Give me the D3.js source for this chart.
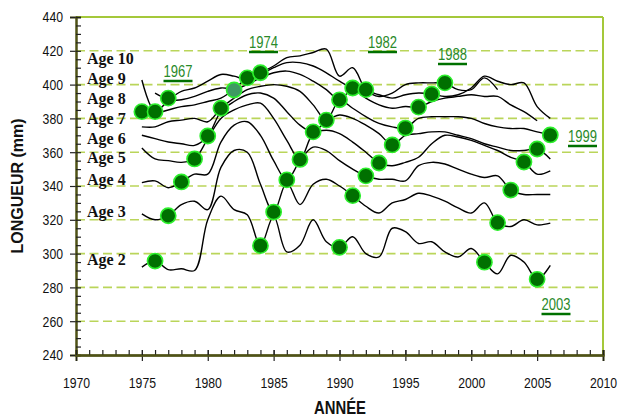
<!DOCTYPE html>
<html><head><meta charset="utf-8">
<script src="https://cdn.jsdelivr.net/npm/d3@7"></script>
<style>
html,body{margin:0;padding:0;background:#fff;}
svg{display:block;}
</style></head>
<body><svg id="c" width="628" height="418"></svg>
<script>
const years = d3.range(1975, 2007);
const age2  = [292,295.6,290.5,291,290,320,334,326,323,304.7,322,301,305,320,307,303.7,310,300,298,315,313,306,307,301,298,303,294.9,288,299,295,284.8,293];
const age3  = [323.5,320,322.4,329,331,326,351,361,360,341,324.6,342,329,341,344,340,334.3,328,324,330,332,335.7,334,331,327,324,330,318.3,316,320,317,318];
const age4  = [342,343,339,342.4,347,347,366,376,378,370,355,343.6,355,363,361,355,350,346,344,344,343,352,354,353,350,347,345,346,337.6,335,335,335];
const age5  = [362.5,356,355,354,356,368,380,385,388,389,380,367,355.7,371,373,371,366,360,353.6,352,354,357,365,370,369,367,364,361,357,354.2,347,349];
const age6  = [370,368,366,365,364,369.6,384,390,394,395,392,384,376,372,378.5,382,380,376,371,364.3,370,371,372,372,370,368,365,363,361,361,361.9,356];
const age7  = [375,375,378,379,380,378,386,392,397,399,400,399,396,388,379,390.5,386,381,377,375,374.3,380,381,381,381,380,377,375,374,374,372,370.2];
const age8  = [384,383,385,387,388,390,392,396.8,400,404,407,408,406,402,397,391,397.5,392,388,386,387,386.7,390,392,393,394,393,393,388,384,378.6,null];
const age9  = [402.7,384,390,391,393,396,398,398,404,406,410,413,413,411,407,402,398,396.5,394,392,394,395,394.4,393,394,398,405,402,400,401,387,380];
const age10 = [null,395,392,396,398,402,406,405,403,407,411,416,417,419,421,405,410,397,393,395,400,401,401,401,397,397,404,397,null,null,null,null];
const ageNames = ["Age 2","Age 3","Age 4","Age 5","Age 6","Age 7","Age 8","Age 9","Age 10"];
const ageSeries = [age2,age3,age4,age5,age6,age7,age8,age9,age10];
const cohortYears = [1967,1974,1982,1988,1999,2003];
const cohortFirstAge = [8,2,2,2,2,2];
const cohortLastAge  = [10,10,10,10,7,2];
const yTicks = [240,260,280,300,320,340,360,380,400,420,440];
const xTicks = [1970,1975,1980,1985,1990,1995,2000,2005,2010];

const svg = d3.select("#c");
const x = d3.scaleLinear().domain([1970,2010]).range([76,603]);
const y = d3.scaleLinear().domain([240,440]).range([355,17]);
const SANS = "Liberation Sans, Arial, sans-serif";

// grid
svg.append("g").selectAll("line").data(yTicks.filter(v=>v>240&&v<440)).join("line")
  .attr("x1",x(1970)).attr("x2",x(2010)).attr("y1",d=>y(d)).attr("y2",d=>y(d))
  .attr("stroke","#bad55a").attr("stroke-width",1.6).attr("stroke-dasharray","9,4.5");
// frame top/right
svg.append("line").attr("x1",x(1970)).attr("x2",x(2010)).attr("y1",y(440)).attr("y2",y(440)).attr("stroke","#a4c83a").attr("stroke-width",2);
svg.append("line").attr("x1",x(2010)).attr("x2",x(2010)).attr("y1",y(440)).attr("y2",y(240)).attr("stroke","#a4c83a").attr("stroke-width",2);

// axes
const axCol = "#4f5216";
const yAx = svg.append("g").attr("transform",`translate(${x(1970)},0)`)
  .call(d3.axisLeft(y).tickValues(yTicks).tickSize(6).tickPadding(7).tickFormat(d3.format("d")));
const yMinor = svg.append("g").attr("transform",`translate(${x(1970)},0)`)
  .call(d3.axisRight(y).tickValues(d3.range(240,441,5)).tickSize(5).tickFormat(""));
const xAx = svg.append("g").attr("transform",`translate(0,${y(240)})`)
  .call(d3.axisBottom(x).tickValues(xTicks).tickSize(6).tickPadding(16).tickFormat(d3.format("d")));
const xMinor = svg.append("g").attr("transform",`translate(0,${y(240)})`)
  .call(d3.axisTop(x).tickValues(d3.range(1970,2011,1)).tickSize(5).tickFormat(""));
const xMaj2 = svg.append("g").attr("transform",`translate(0,${y(240)})`)
  .call(d3.axisTop(x).tickValues(xTicks).tickSize(5).tickFormat(""));
[yAx,yMinor,xAx,xMinor,xMaj2].forEach(g=>{
  g.select(".domain").attr("stroke",axCol).attr("stroke-width",2);
  g.selectAll(".tick line").attr("stroke","#222").attr("stroke-width",1.2);
  g.selectAll(".tick text").attr("font-family",SANS).attr("font-size",15).attr("fill","#111")
    .attr("textLength",function(){return this.textContent.length*6.8;}).attr("lengthAdjust","spacingAndGlyphs");
});

// titles
svg.append("text").attr("transform","translate(23,186) rotate(-90)").attr("text-anchor","middle")
  .attr("font-family",SANS).attr("font-weight","bold").attr("font-size",16).attr("fill","#111")
  .text("LONGUEUR (mm)");
svg.append("text").attr("x",340).attr("y",414).attr("text-anchor","middle")
  .attr("font-family",SANS).attr("font-weight","bold").attr("font-size",19).attr("fill","#111")
  .attr("textLength",52).attr("lengthAdjust","spacingAndGlyphs").text("ANNÉE");

// age lines
const line = d3.line().defined(d=>d[1]!=null).x(d=>x(d[0])).y(d=>y(d[1])).curve(d3.curveCatmullRom.alpha(0.5));
svg.append("g").selectAll("path").data(ageSeries).join("path")
  .attr("d",s=>line(years.map((yr,i)=>[yr,s[i]])))
  .attr("fill","none").attr("stroke","#000").attr("stroke-width",1.4);

// age labels
const ageLabelY = [265,216.7,185,163.3,144,124,104,84,64.3];
svg.append("g").selectAll("text").data(ageNames).join("text")
  .attr("x",87).attr("y",(d,i)=>ageLabelY[i])
  .attr("font-family","Liberation Serif, Times New Roman, serif").attr("font-weight","bold").attr("font-size",16)
  .attr("fill","#111").text(d=>d);

// cohort markers (placed on the age lines)
const cohortPts = cohortYears.map((c,ci)=>{
  const pts=[];
  for(let a=cohortFirstAge[ci];a<=cohortLastAge[ci];a++){
    const yr=c+a, i=years.indexOf(yr);
    if(i<0) continue;
    const v=ageSeries[a-2][i];
    if(v!=null) pts.push({yr,v,age:a,c});
  }
  return pts;
});
svg.append("g").selectAll("circle").data(cohortPts.flat()).join("circle")
  .attr("cx",d=>x(d.yr)).attr("cy",d=>y(d.v)).attr("r",7.6)
  .attr("fill",d=>(d.c===1974&&d.age===8)?"#3e9a62":"#007000")
  .attr("stroke","#2cf02c").attr("stroke-width",1.6);

// cohort labels
const labPos = {1967:[178,77],1974:[263.5,48],1982:[382.5,48],1988:[452.5,60],1999:[582.5,142],2003:[556,310]};
const lg = svg.append("g");
cohortYears.forEach(c=>{
  const [cx,cy]=labPos[c];
  lg.append("text").attr("x",cx).attr("y",cy).attr("text-anchor","middle")
    .attr("font-family",SANS).attr("font-size",16).attr("fill","#2a8a2a")
    .attr("textLength",29).attr("lengthAdjust","spacingAndGlyphs").text(c);
  lg.append("line").attr("x1",cx-14.5).attr("x2",cx+14.5).attr("y1",cy+4).attr("y2",cy+4)
    .attr("stroke","#007000").attr("stroke-width",2.5);
});
</script></body></html>
